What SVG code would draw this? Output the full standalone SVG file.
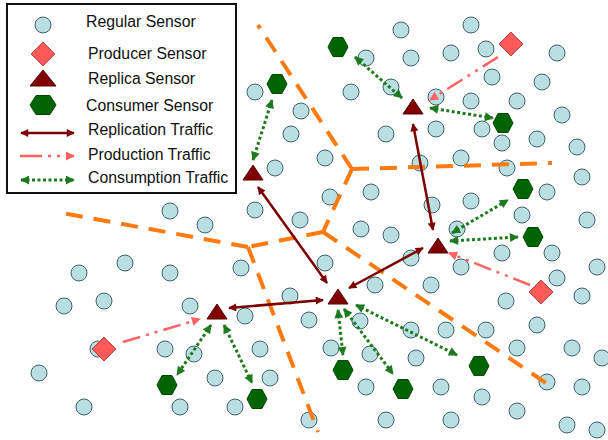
<svg xmlns="http://www.w3.org/2000/svg" xmlns:xlink="http://www.w3.org/1999/xlink" width="608" height="440" viewBox="0 0 608 440">
<style>
text{font-family:"Liberation Sans",Arial,sans-serif;font-size:15.8px;fill:#111}
.zone{fill:none;stroke:#ff7a10;stroke-width:4;stroke-dasharray:17 11}
.rep{stroke:#7b0000;stroke-width:2.5;fill:none;marker-start:url(#ar);marker-end:url(#ar)}
.prod{stroke:#ff6262;stroke-width:2.5;fill:none;stroke-dasharray:18 6 3 6 3 6;marker-end:url(#ap)}
.cons{stroke:#1e7a1e;stroke-width:3;fill:none;stroke-dasharray:3 2.5;marker-start:url(#ac);marker-end:url(#ac)}
</style>
<defs>
<circle id="rs" r="8" fill="#b9dfe2" stroke="#41626a" stroke-width="1"/>
<polygon id="hex" points="-10,0 -5,-9.5 5,-9.5 10,0 5,9.5 -5,9.5" fill="#006400" stroke="#004a00" stroke-width="1"/>
<polygon id="tri" points="-10,7 10,7 0,-8" fill="#800000" stroke="#5a0000" stroke-width="1"/>
<polygon id="dia" points="0,-12 12,0 0,12 -12,0" fill="#ff5a5a" stroke="#c04444" stroke-width="1"/>
<marker id="ar" viewBox="0 0 10 10" refX="9" refY="5" markerWidth="10" markerHeight="8" orient="auto-start-reverse" markerUnits="userSpaceOnUse"><path d="M0,0 L10,5 L0,10 z" fill="#7b0000"/></marker>
<marker id="ap" viewBox="0 0 10 10" refX="9" refY="5" markerWidth="10" markerHeight="9" orient="auto-start-reverse" markerUnits="userSpaceOnUse"><path d="M0,0 L10,5 L0,10 z" fill="#ff6262"/></marker>
<marker id="ac" viewBox="0 0 10 10" refX="9" refY="5" markerWidth="10" markerHeight="9" orient="auto-start-reverse" markerUnits="userSpaceOnUse"><path d="M0,0 L10,5 L0,10 z" fill="#1e7a1e"/></marker>
</defs>
<rect width="608" height="440" fill="#fff"/>
<g id="regular-sensors">
<g id="r1"><use xlink:href="#rs" x="401" y="30"/></g>
<g id="r2"><use xlink:href="#rs" x="471" y="25"/></g>
<g id="r3"><use xlink:href="#rs" x="366" y="58"/></g>
<g id="r4"><use xlink:href="#rs" x="411" y="58"/></g>
<g id="r5"><use xlink:href="#rs" x="451" y="53"/></g>
<g id="r6"><use xlink:href="#rs" x="486" y="49"/></g>
<g id="r7"><use xlink:href="#rs" x="557" y="53"/></g>
<g id="r8"><use xlink:href="#rs" x="255" y="92"/></g>
<g id="r9"><use xlink:href="#rs" x="351" y="92"/></g>
<g id="r10"><use xlink:href="#rs" x="391" y="87"/></g>
<g id="r11"><use xlink:href="#rs" x="436" y="97"/></g>
<g id="r12"><use xlink:href="#rs" x="492" y="77"/></g>
<g id="r13"><use xlink:href="#rs" x="542" y="82"/></g>
<g id="r14"><use xlink:href="#rs" x="301" y="111"/></g>
<g id="r15"><use xlink:href="#rs" x="471" y="101"/></g>
<g id="r16"><use xlink:href="#rs" x="517" y="101"/></g>
<g id="r17"><use xlink:href="#rs" x="562" y="115"/></g>
<g id="r18"><use xlink:href="#rs" x="291" y="134"/></g>
<g id="r19"><use xlink:href="#rs" x="386" y="134"/></g>
<g id="r20"><use xlink:href="#rs" x="436" y="129"/></g>
<g id="r21"><use xlink:href="#rs" x="482" y="129"/></g>
<g id="r22"><use xlink:href="#rs" x="502" y="143"/></g>
<g id="r23"><use xlink:href="#rs" x="537" y="139"/></g>
<g id="r24"><use xlink:href="#rs" x="577" y="147"/></g>
<g id="r25"><use xlink:href="#rs" x="325" y="158"/></g>
<g id="r26"><use xlink:href="#rs" x="275" y="168"/></g>
<g id="r27"><use xlink:href="#rs" x="420" y="163"/></g>
<g id="r28"><use xlink:href="#rs" x="461" y="158"/></g>
<g id="r29"><use xlink:href="#rs" x="507" y="168"/></g>
<g id="r30"><use xlink:href="#rs" x="582" y="177"/></g>
<g id="r31"><use xlink:href="#rs" x="371" y="192"/></g>
<g id="r32"><use xlink:href="#rs" x="330" y="197"/></g>
<g id="r33"><use xlink:href="#rs" x="255" y="210"/></g>
<g id="r34"><use xlink:href="#rs" x="432" y="205"/></g>
<g id="r35"><use xlink:href="#rs" x="471" y="201"/></g>
<g id="r36"><use xlink:href="#rs" x="547" y="192"/></g>
<g id="r37"><use xlink:href="#rs" x="522" y="215"/></g>
<g id="r38"><use xlink:href="#rs" x="300" y="220"/></g>
<g id="r39"><use xlink:href="#rs" x="587" y="220"/></g>
<g id="r40"><use xlink:href="#rs" x="361" y="229"/></g>
<g id="r41"><use xlink:href="#rs" x="391" y="235"/></g>
<g id="r42"><use xlink:href="#rs" x="457" y="229"/></g>
<g id="r43"><use xlink:href="#rs" x="502" y="253"/></g>
<g id="r44"><use xlink:href="#rs" x="552" y="253"/></g>
<g id="r45"><use xlink:href="#rs" x="325" y="263"/></g>
<g id="r46"><use xlink:href="#rs" x="411" y="258"/></g>
<g id="r47"><use xlink:href="#rs" x="241" y="268"/></g>
<g id="r48"><use xlink:href="#rs" x="461" y="267"/></g>
<g id="r49"><use xlink:href="#rs" x="597" y="267"/></g>
<g id="r50"><use xlink:href="#rs" x="557" y="278"/></g>
<g id="r51"><use xlink:href="#rs" x="375" y="285"/></g>
<g id="r52"><use xlink:href="#rs" x="431" y="285"/></g>
<g id="r53"><use xlink:href="#rs" x="170" y="211"/></g>
<g id="r54"><use xlink:href="#rs" x="205" y="225"/></g>
<g id="r55"><use xlink:href="#rs" x="125" y="263"/></g>
<g id="r56"><use xlink:href="#rs" x="79" y="273"/></g>
<g id="r57"><use xlink:href="#rs" x="170" y="273"/></g>
<g id="r58"><use xlink:href="#rs" x="290" y="296"/></g>
<g id="r59"><use xlink:href="#rs" x="64" y="306"/></g>
<g id="r60"><use xlink:href="#rs" x="104" y="301"/></g>
<g id="r61"><use xlink:href="#rs" x="190" y="306"/></g>
<g id="r62"><use xlink:href="#rs" x="245" y="316"/></g>
<g id="r63"><use xlink:href="#rs" x="309" y="320"/></g>
<g id="r64"><use xlink:href="#rs" x="165" y="349"/></g>
<g id="r65"><use xlink:href="#rs" x="194" y="354"/></g>
<g id="r66"><use xlink:href="#rs" x="260" y="349"/></g>
<g id="r67"><use xlink:href="#rs" x="39" y="373"/></g>
<g id="r68"><use xlink:href="#rs" x="215" y="378"/></g>
<g id="r69"><use xlink:href="#rs" x="270" y="378"/></g>
<g id="r70"><use xlink:href="#rs" x="84" y="407"/></g>
<g id="r71"><use xlink:href="#rs" x="180" y="407"/></g>
<g id="r72"><use xlink:href="#rs" x="235" y="407"/></g>
<g id="r73"><use xlink:href="#rs" x="309" y="420"/></g>
<g id="r74"><use xlink:href="#rs" x="98" y="349"/></g>
<g id="r75"><use xlink:href="#rs" x="582" y="296"/></g>
<g id="r76"><use xlink:href="#rs" x="506" y="301"/></g>
<g id="r77"><use xlink:href="#rs" x="360" y="321"/></g>
<g id="r78"><use xlink:href="#rs" x="411" y="330"/></g>
<g id="r79"><use xlink:href="#rs" x="446" y="330"/></g>
<g id="r80"><use xlink:href="#rs" x="486" y="330"/></g>
<g id="r81"><use xlink:href="#rs" x="537" y="325"/></g>
<g id="r82"><use xlink:href="#rs" x="331" y="348"/></g>
<g id="r83"><use xlink:href="#rs" x="370" y="354"/></g>
<g id="r84"><use xlink:href="#rs" x="416" y="358"/></g>
<g id="r85"><use xlink:href="#rs" x="517" y="348"/></g>
<g id="r86"><use xlink:href="#rs" x="572" y="348"/></g>
<g id="r87"><use xlink:href="#rs" x="602" y="358"/></g>
<g id="r88"><use xlink:href="#rs" x="366" y="387"/></g>
<g id="r89"><use xlink:href="#rs" x="441" y="387"/></g>
<g id="r90"><use xlink:href="#rs" x="482" y="397"/></g>
<g id="r91"><use xlink:href="#rs" x="547" y="382"/></g>
<g id="r92"><use xlink:href="#rs" x="582" y="387"/></g>
<g id="r93"><use xlink:href="#rs" x="517" y="411"/></g>
<g id="r94"><use xlink:href="#rs" x="386" y="420"/></g>
<g id="r95"><use xlink:href="#rs" x="451" y="420"/></g>
<g id="r96"><use xlink:href="#rs" x="567" y="425"/></g>
<g id="r97"><use xlink:href="#rs" x="597" y="430"/></g>
</g>
<g id="zones">
<line class="zone" x1="352" y1="169" x2="258" y2="25"/>
<line class="zone" x1="352" y1="169" x2="552" y2="163"/>
<line class="zone" x1="352" y1="169" x2="323" y2="232"/>
<line class="zone" x1="323" y1="232" x2="248" y2="247"/>
<line class="zone" x1="248" y1="247" x2="62" y2="213"/>
<line class="zone" x1="248" y1="247" x2="318" y2="432"/>
<line class="zone" x1="323" y1="232" x2="549" y2="385"/>
</g>
<g id="connectors">
<line class="rep" x1="258" y1="187" x2="327" y2="283"/>
<line class="rep" x1="413" y1="124" x2="433" y2="230"/>
<line class="rep" x1="349" y1="288" x2="423" y2="248"/>
<line class="rep" x1="229" y1="308" x2="323" y2="300"/>
<line class="prod" x1="498" y1="57" x2="430" y2="100"/>
<line class="prod" x1="530" y1="285" x2="449" y2="253"/>
<line class="prod" x1="123" y1="342" x2="200" y2="319"/>
<line class="cons" x1="355" y1="57" x2="402" y2="98"/>
<line class="cons" x1="430" y1="108" x2="493" y2="118"/>
<line class="cons" x1="272" y1="100" x2="253" y2="160"/>
<line class="cons" x1="452" y1="233" x2="508" y2="200"/>
<line class="cons" x1="450" y1="241" x2="518" y2="237"/>
<line class="cons" x1="211" y1="325" x2="177" y2="375"/>
<line class="cons" x1="224" y1="325" x2="252" y2="383"/>
<line class="cons" x1="338" y1="310" x2="343" y2="355"/>
<line class="cons" x1="344" y1="309" x2="393" y2="374"/>
<line class="cons" x1="356" y1="305" x2="457" y2="355"/>
</g>
<g id="producer-1"><use xlink:href="#dia" x="511" y="44"/></g>
<g id="producer-2"><use xlink:href="#dia" x="541" y="292"/></g>
<g id="producer-3"><use xlink:href="#dia" x="104" y="349"/></g>
<g id="replica-1"><use xlink:href="#tri" x="413" y="107"/></g>
<g id="replica-2"><use xlink:href="#tri" x="253" y="173"/></g>
<g id="replica-3"><use xlink:href="#tri" x="438" y="246"/></g>
<g id="replica-4"><use xlink:href="#tri" x="338" y="297"/></g>
<g id="replica-5"><use xlink:href="#tri" x="217" y="312"/></g>
<g id="consumer-1"><use xlink:href="#hex" x="338" y="47"/></g>
<g id="consumer-2"><use xlink:href="#hex" x="277" y="84"/></g>
<g id="consumer-3"><use xlink:href="#hex" x="503" y="123"/></g>
<g id="consumer-4"><use xlink:href="#hex" x="523" y="189"/></g>
<g id="consumer-5"><use xlink:href="#hex" x="533" y="237"/></g>
<g id="consumer-6"><use xlink:href="#hex" x="167" y="385"/></g>
<g id="consumer-7"><use xlink:href="#hex" x="257" y="399"/></g>
<g id="consumer-8"><use xlink:href="#hex" x="343" y="370"/></g>
<g id="consumer-9"><use xlink:href="#hex" x="403" y="389"/></g>
<g id="consumer-10"><use xlink:href="#hex" x="479" y="366"/></g>
<g id="legend">
<rect x="7" y="4" width="229" height="189" fill="#fff" stroke="#111" stroke-width="2"/>
<circle cx="43" cy="25" r="8" fill="#b9dfe2" stroke="#41626a" stroke-width="1"/>
<polygon points="43,42 55,54 43,66 31,54" fill="#ff5a5a" stroke="#c04444" stroke-width="1"/>
<polygon points="30,86 56,86 43,70" fill="#800000" stroke="#5a0000" stroke-width="1"/>
<polygon points="30,105 36,95.5 50,95.5 56,105 50,114.5 36,114.5" fill="#006400" stroke="#004a00" stroke-width="1"/>
<line class="rep" x1="21" y1="133" x2="74" y2="133"/>
<line class="prod" x1="20" y1="156" x2="74" y2="156" style="stroke-dasharray:22 6 3 6 3 6"/>
<line class="cons" x1="21" y1="180" x2="74" y2="180"/>
<text x="86" y="27">Regular Sensor</text>
<text x="88" y="59">Producer Sensor</text>
<text x="88" y="84">Replica Sensor</text>
<text x="86" y="111">Consumer Sensor</text>
<text x="88" y="135">Replication Traffic</text>
<text x="88" y="160">Production Traffic</text>
<text x="88" y="183">Consumption Traffic</text>
</g>
</svg>
